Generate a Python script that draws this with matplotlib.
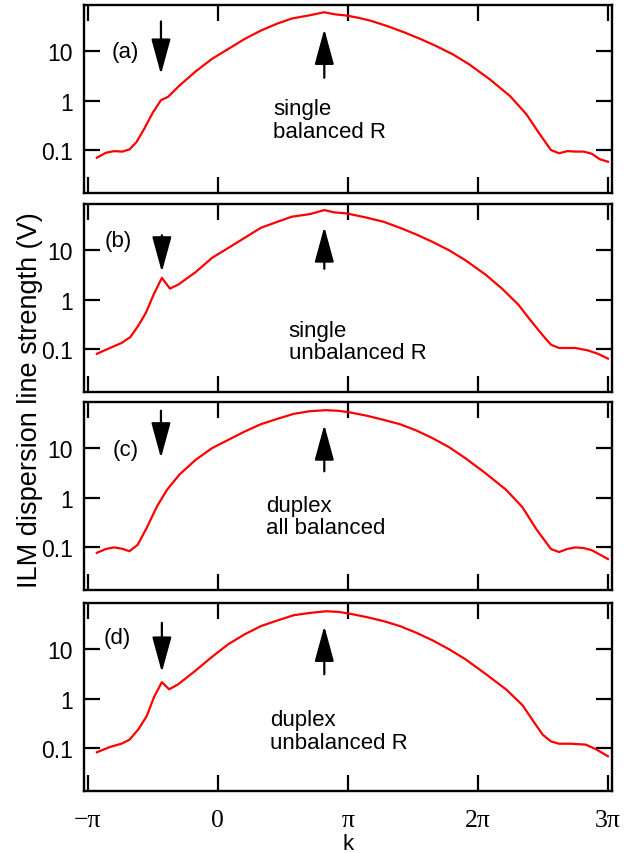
import numpy as np
import matplotlib
matplotlib.use("Agg")
import matplotlib.pyplot as plt

plt.rcParams['font.family'] = ['Liberation Sans', 'DejaVu Sans']

# ---- data (k in units of pi, strength in V) ----
k_a = [-0.930, -0.861, -0.798, -0.735, -0.679, -0.625, -0.562, -0.500, -0.437, -0.383,
       -0.296, -0.170, -0.044, 0.081, 0.207, 0.332, 0.458, 0.568, 0.709, 0.819,
       0.898, 0.992, 1.086, 1.180, 1.306, 1.431, 1.557, 1.682, 1.808, 1.934,
       2.091, 2.248, 2.373, 2.468, 2.562, 2.624, 2.687, 2.750, 2.813, 2.876, 2.938, 3.000]
v_a = [0.070, 0.088, 0.095, 0.093, 0.103, 0.145, 0.28, 0.57, 1.02, 1.19,
       2.0, 3.9, 7.0, 11.1, 17.7, 26.2, 36.2, 45.7, 53.4, 61.4,
       55.8, 52.5, 47.1, 41.0, 32.0, 24.2, 17.7, 12.6, 8.6, 5.4,
       2.7, 1.23, 0.53, 0.224, 0.100, 0.086, 0.095, 0.093, 0.093, 0.084, 0.065, 0.058]

k_b = [-0.930, -0.829, -0.741, -0.672, -0.610, -0.553, -0.490, -0.430, -0.368, -0.305,
       -0.170, -0.044, 0.081, 0.207, 0.332, 0.458, 0.568, 0.709, 0.819, 0.898,
       0.992, 1.149, 1.275, 1.400, 1.526, 1.651, 1.777, 1.902, 2.059, 2.185,
       2.311, 2.405, 2.499, 2.562, 2.624, 2.750, 2.844, 2.923, 3.000]
v_b = [0.080, 0.105, 0.132, 0.175, 0.30, 0.54, 1.32, 2.75, 1.67, 2.0,
       3.6, 7.0, 11.1, 17.8, 28.4, 37.5, 47.4, 53.7, 64.7, 58.0,
       55.4, 45.2, 37.5, 28.4, 20.8, 14.7, 10.0, 6.3, 3.2, 1.67,
       0.79, 0.38, 0.189, 0.122, 0.105, 0.105, 0.094, 0.080, 0.064]

k_c = [-0.930, -0.861, -0.798, -0.735, -0.679, -0.616, -0.547, -0.468, -0.390, -0.296,
       -0.170, -0.044, 0.081, 0.207, 0.332, 0.458, 0.584, 0.709, 0.835, 0.929,
       1.023, 1.149, 1.275, 1.400, 1.526, 1.651, 1.777, 1.902, 2.059, 2.216,
       2.342, 2.452, 2.562, 2.624, 2.687, 2.750, 2.813, 2.876, 2.938, 3.000]
v_c = [0.076, 0.091, 0.098, 0.092, 0.082, 0.111, 0.242, 0.66, 1.44, 2.9,
       5.8, 10.0, 14.7, 21.7, 30.5, 39.1, 49.4, 55.9, 58.6, 56.8,
       52.5, 45.0, 37.3, 30.5, 22.8, 15.9, 10.5, 6.3, 3.1, 1.44,
       0.64, 0.224, 0.091, 0.079, 0.091, 0.098, 0.095, 0.086, 0.070, 0.057]

k_d = [-0.930, -0.829, -0.741, -0.679, -0.610, -0.547, -0.490, -0.430, -0.374, -0.305,
       -0.170, -0.044, 0.081, 0.207, 0.332, 0.458, 0.584, 0.709, 0.835, 0.929,
       1.023, 1.149, 1.275, 1.400, 1.526, 1.651, 1.777, 1.902, 2.059, 2.216,
       2.342, 2.436, 2.499, 2.562, 2.624, 2.719, 2.829, 2.907, 3.000]
v_d = [0.082, 0.105, 0.122, 0.147, 0.24, 0.44, 1.08, 2.15, 1.54, 1.94,
       3.7, 7.0, 12.6, 20.0, 29.3, 38.0, 48.6, 54.1, 58.5, 56.7,
       51.7, 44.3, 36.9, 29.3, 21.5, 15.1, 10.0, 6.3, 3.16, 1.54,
       0.74, 0.32, 0.185, 0.136, 0.122, 0.122, 0.117, 0.095, 0.068]

panel_labels = ['(a)', '(b)', '(c)', '(d)']
panel_texts = ['single\nbalanced R', 'single\nunbalanced R',
               'duplex\nall balanced', 'duplex\nunbalanced R']
# arrows: (k/pi, tail V, tip V)
down_arrows = [(-0.437, 40.0, 3.4), (-0.430, 20.0, 3.6), (-0.437, 57.0, 6.3), (-0.430, 34.0, 3.4)]
up_arrows = [(0.819, 2.9, 28.0), (0.819, 4.2, 29.7), (0.819, 3.4, 29.6), (0.819, 3.1, 29.3)]

x_ticks = [-1, 0, 1, 2, 3]
x_ticklabels = ['\u2212\u03c0', '0', '\u03c0', '2\u03c0', '3\u03c0']
y_ticks = [0.1, 1, 10]
y_ticklabels = ['0.1', '1', '10']

series = [(k_a, v_a), (k_b, v_b), (k_c, v_c), (k_d, v_d)]

# ---- layout ----
fig = plt.figure(figsize=(6.4, 8.54), dpi=100)
left, width, height = 0.131, 0.825, 0.2205
bottoms = [0.7728, 0.5398, 0.3080, 0.0726]
label_pos = [(0.053, 0.75), (0.040, 0.805), (0.055, 0.746), (0.038, 0.817)]
text_pos = [(0.358, 0.505), (0.388, 0.385), (0.345, 0.505), (0.352, 0.435)]

for i in range(4):
    ax = fig.add_axes([left, bottoms[i], width, height])
    kk = np.array(series[i][0]) * np.pi
    ax.plot(kk, series[i][1], color='#ff0000', lw=1.6)
    ax.set_yscale('log')
    ax.set_ylim(10 ** -1.87, 10 ** 1.94)
    ax.set_xlim(-1.03 * np.pi, 3.03 * np.pi)
    ax.set_xticks(np.array(x_ticks) * np.pi)
    ax.set_yticks(y_ticks)
    ax.set_yticklabels(y_ticklabels)
    ax.minorticks_off()
    ax.tick_params(axis='both', which='major', direction='in', length=11.5, width=1.6,
                   top=True, right=True, labelsize=16.5)
    ax.tick_params(axis='y', pad=8)
    if i == 3:
        ax.set_xticklabels(x_ticklabels, family=['Liberation Serif', 'DejaVu Serif'], fontsize=18.5)
        ax.tick_params(axis='x', pad=13)
        ax.set_xlabel('k', fontsize=16)
        ax.xaxis.set_label_coords(0.5, -0.225)
    else:
        ax.set_xticklabels([])
    for s in ax.spines.values():
        s.set_linewidth(1.7)
    ax.text(label_pos[i][0], label_pos[i][1], panel_labels[i], transform=ax.transAxes,
            fontsize=16, va='center', ha='left')
    ax.text(text_pos[i][0], text_pos[i][1], panel_texts[i], transform=ax.transAxes,
            fontsize=16, va='top', ha='left', linespacing=1.1)
    for (xa, yt, yh) in [down_arrows[i], up_arrows[i]]:
        ax.annotate('', xy=(xa * np.pi, yh), xytext=(xa * np.pi, yt),
                    arrowprops=dict(arrowstyle='-|>,head_length=2.2,head_width=0.6',
                                    mutation_scale=10, color='black', lw=1.6,
                                    shrinkA=0, shrinkB=0))

fig.text(0.047, 1 - 400 / 854, 'ILM dispersion line strength (V)', rotation=90,
         va='center', ha='center', fontsize=19.5)

fig.savefig('out.png', dpi=100)
